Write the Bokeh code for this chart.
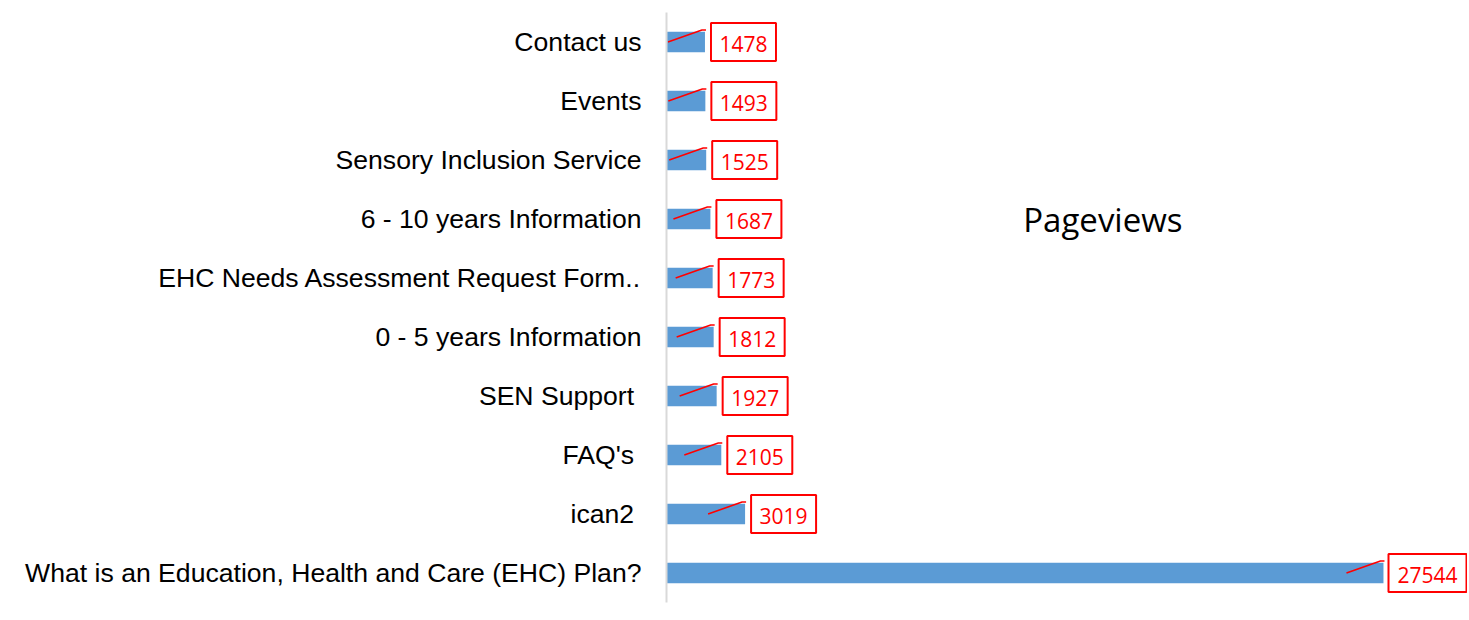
from bokeh.plotting import figure
from bokeh.models import Range1d, ColumnDataSource, FixedTicker
from bokeh.core.properties import value
from bokeh.embed import file_html
from bokeh.resources import INLINE

# ---- data (top to bottom as displayed) ----
pages = [
    "Contact us",
    "Events",
    "Sensory Inclusion Service",
    "6 - 10 years Information",
    "EHC Needs Assessment Request Form..",
    "0 - 5 years Information",
    "SEN Support ",
    "FAQ's ",
    "ican2 ",
    "What is an Education, Health and Care (EHC) Plan?",
]
pageviews = [1478, 1493, 1525, 1687, 1773, 1812, 1927, 2105, 3019, 27544]
chart_title = "Pageviews"

# ---- layout ----
FIG_W, FIG_H = 1467, 618
LEFT = 666
TOP, BOTTOM = 12, 16
FRAME_W = FIG_W - LEFT
FRAME_H = FIG_H - TOP - BOTTOM
X_END = FRAME_W / 0.02603
N = len(pages)
SX = FRAME_W / X_END          # px per data unit (x)
SY = FRAME_H / N              # px per category (y)

BAR_COLOR = "#5b9bd5"
RED = "#ff0000"

# category slots: first page on top
centers = [N - 0.5 - i for i in range(N)]

p = figure(
    width=FIG_W, height=FIG_H, output_backend="svg", toolbar_location=None,
    y_range=Range1d(0, N), x_range=Range1d(0, X_END),
    x_axis_location=None, y_axis_location="left",
    min_border_left=LEFT, min_border_right=0,
    min_border_top=TOP, min_border_bottom=BOTTOM,
)
p.outline_line_color = None
p.xgrid.visible = False
p.ygrid.visible = False
p.background_fill_color = "white"
p.border_fill_color = "white"

# bars
p.hbar(y=centers, left=0, right=pageviews, height=0.35, color=BAR_COLOR, line_color=None)

# y axis with category names
ax = p.yaxis[0]
ax.ticker = FixedTicker(ticks=centers)
ax.major_label_overrides = {c: name for c, name in zip(centers, pages)}
ax.axis_line_color = "#d9d9d9"
ax.axis_line_width = 2
ax.major_tick_line_color = None
ax.minor_tick_line_color = None
ax.major_tick_out = 0
ax.major_tick_in = 0
ax.major_label_standoff = 25
ax.major_label_text_font = "Liberation Sans"
ax.major_label_text_font_size = "26.6px"
ax.major_label_text_color = "#000000"

# data labels: leader lines, boxes, values
xs, ys, box_x, box_w = [], [], [], []
for v, c in zip(pageviews, centers):
    xs.append([v - 37 / SX, v - 3 / SX, v + 1 / SX])
    ys.append([c, c + 12 / SY, c + 12 / SY])
    w = 13 * (len(str(v)) + 1)
    cx_px = min(v * SX + 6 + w / 2, FRAME_W - 1 - w / 2)
    box_x.append(cx_px / SX)
    box_w.append(w)

src = ColumnDataSource(dict(x=box_x, y=centers, w=box_w, t=[str(v) for v in pageviews]))
p.multi_line(xs=xs, ys=ys, line_color=RED, line_width=1.6)
p.rect(x="x", y="y", width="w", height=38, width_units="screen", height_units="screen",
       fill_color="white", line_color=RED, line_width=2, source=src)
p.text(x="x", y="y", text="t", source=src,
       text_align="center", text_baseline="middle", y_offset=2,
       text_font=value("Open Sans"), text_font_size="21px", text_color=RED)

# chart title inside plot
p.text(x=[X_END * 0.5448], y=[N - 3.5], text=[chart_title],
       text_align="center", text_baseline="middle",
       text_font=value("Open Sans"), text_font_size="33px", text_color="#000000")

open("out.html", "w").write(file_html(p, INLINE))
